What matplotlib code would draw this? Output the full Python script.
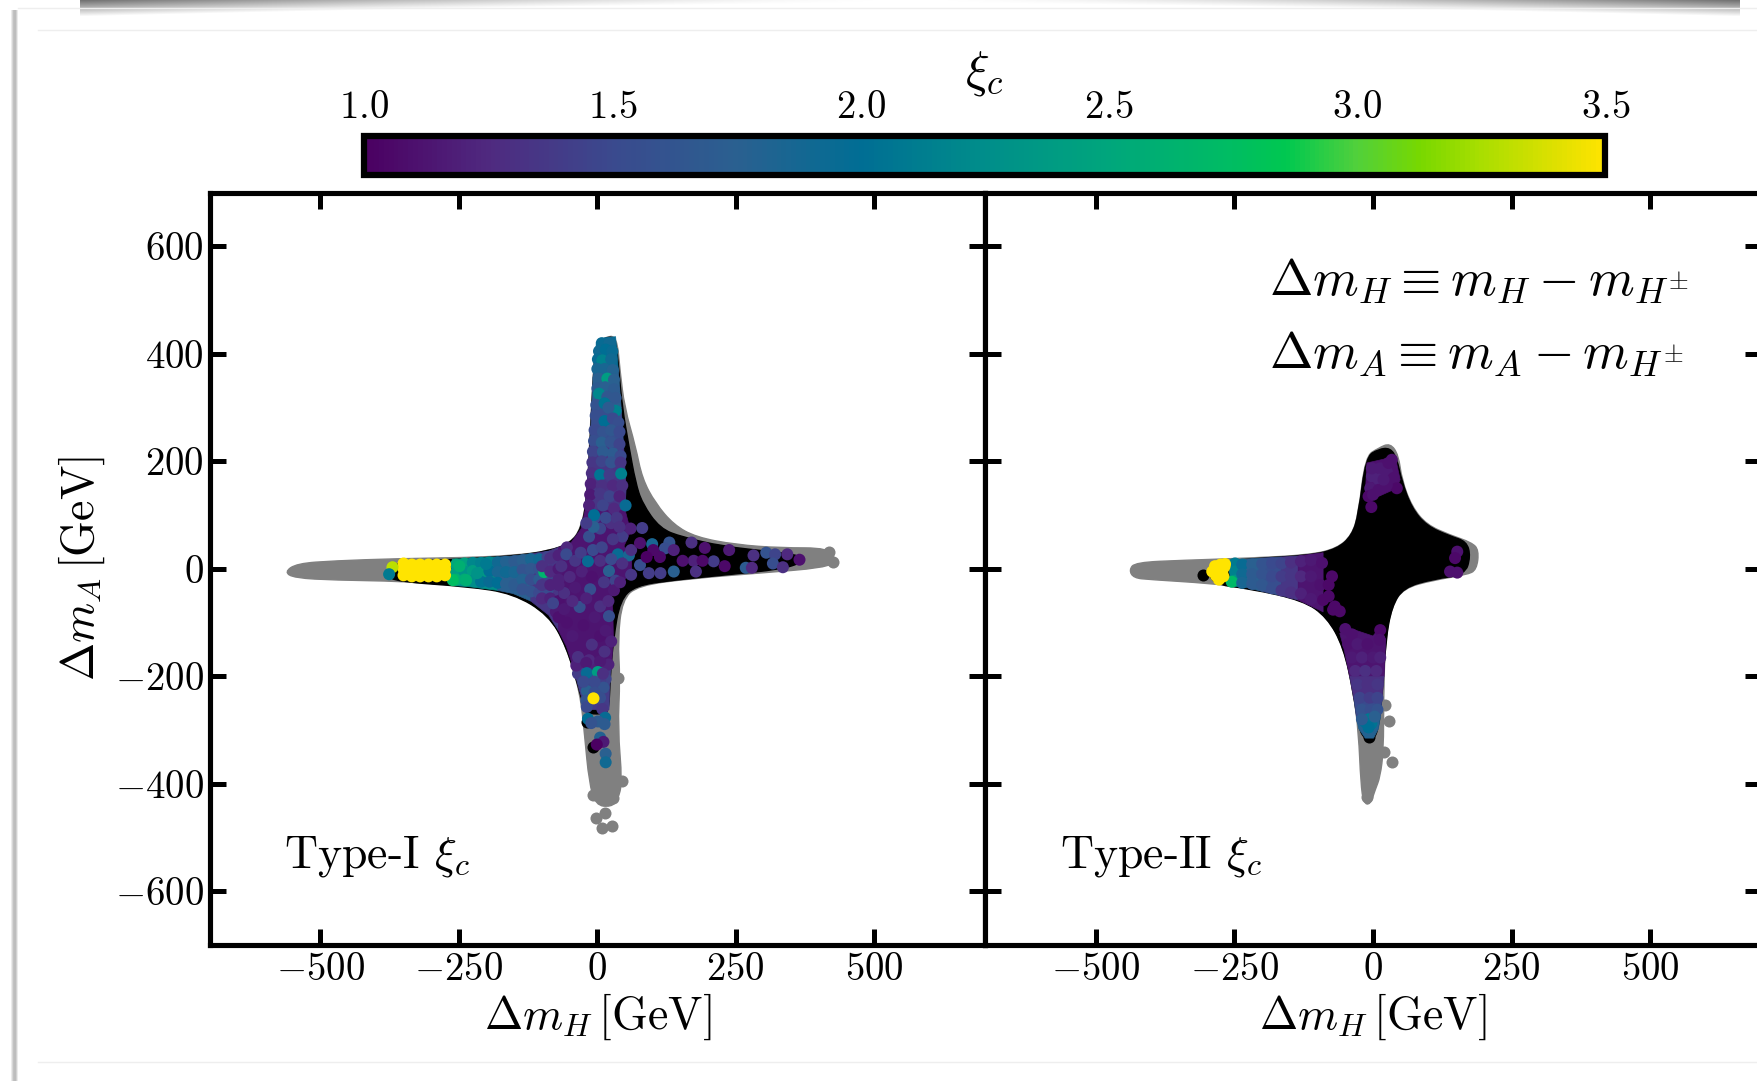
import numpy as np
import matplotlib
matplotlib.use('Agg')
import matplotlib.pyplot as plt
from matplotlib.colors import LinearSegmentedColormap, Normalize
from matplotlib.cm import ScalarMappable
from matplotlib.patches import Rectangle, PathPatch
from matplotlib.path import Path

plt.rcParams['font.family'] = ['cmr10', 'DejaVu Sans']
plt.rcParams['mathtext.fontset'] = 'cm'
plt.rcParams['axes.unicode_minus'] = False
plt.rcParams['axes.formatter.use_mathtext'] = True

W, H = 1758, 1081
XI_MIN, XI_MAX = 1.0, 3.5
X_TICKS = [-500, -250, 0, 250, 500]
Y_TICKS = [-600, -400, -200, 0, 200, 400, 600]
XI_TICKS = [1.0, 1.5, 2.0, 2.5, 3.0, 3.5]

# colour bar as it looks in the picture (more saturated than plain viridis)
XI_STOPS = [1.0, 1.25, 1.5, 1.75, 2.0, 2.26, 2.5, 2.75, 2.86, 3.0, 3.13, 3.25, 3.4, 3.5]
XI_COLOURS = ['#4b0062', '#4f2a80', '#3a4a8e', '#2a6090', '#006e94', '#008f8a', '#00a67c',
              '#00bd62', '#00c850', '#50d03c', '#78d800', '#a8de00', '#dde000', '#ffe400']

# Type-I, outlines of the dense areas
T1_GREY = [(-565, -6), (-543, 10), (-474, 15), (-362, 19), (-233, 21), (-152, 25), (-88, 33), (-48, 49),
           (-30, 75), (-19, 128), (-14, 235), (-7, 368), (-3, 418), (13, 431), (35, 434), (41, 368),
           (49, 301), (69, 228), (81, 168), (105, 122), (138, 82), (178, 59), (250, 45), (331, 39),
           (419, 39), (431, 15), (411, 2), (291, -8), (170, -18), (73, -31), (45, -58), (37, -131),
           (41, -204), (37, -297), (45, -397), (37, -430), (25, -443), (-3, -440), (-15, -397),
           (-23, -310), (-31, -231), (-56, -144), (-88, -84), (-152, -45), (-233, -31), (-354, -23),
           (-474, -21), (-547, -17)]
T1_GREY_DOTS_X = [-3, 13, 9, 27, 37, 45, -7, 29, 419, 425]
T1_GREY_DOTS_Y = [-463, -455, -482, -479, -204, -394, -420, -427, 32, 12]
T1_BLACK = [(-382, -11), (-374, 12), (-233, 19), (-152, 24), (-88, 33), (-48, 48), (-29, 75), (-19, 128),
            (-13, 235), (-7, 368), (-2, 418), (13, 430), (33, 432), (39, 368), (45, 301), (57, 228),
            (69, 161), (81, 122), (113, 75), (154, 59), (226, 42), (315, 32), (367, 25), (371, 12),
            (331, -1), (234, -11), (138, -21), (69, -31), (41, -58), (29, -131), (23, -204), (21, -262),
            (13, -270), (-15, -270), (-23, -264), (-33, -224), (-56, -144), (-88, -86), (-152, -46),
            (-233, -33), (-362, -24)]
T1_BAND_A = [(-262, 18), (-233, 19), (-180, 22), (-180, -40), (-233, -33), (-262, -31)]
T1_BAND_B = [(-180, 22), (-152, 24), (-120, 28), (-120, -60), (-152, -46), (-180, -40)]
T1_BAND_C = [(-120, 28), (-88, 33), (-70, 40), (-70, -115), (-88, -86), (-120, -60)]
T1_CORE = [(-70, 40), (-48, 48), (-29, 75), (-22, 110), (50, 110), (60, 70), (48, 42), (62, 25), (62, -5),
           (45, -25), (25, -45), (28, -78), (29, -131), (25, -185), (-43, -185), (-56, -144), (-70, -115)]
T1_UP_1 = [(-22, 110), (-13, 235), (47, 235), (52, 150), (50, 110)]
T1_UP_2 = [(-13, 235), (-10, 300), (43, 300), (47, 235)]
T1_UP_3 = [(-10, 300), (-7, 368), (38, 368), (43, 300)]
T1_UP_4 = [(-7, 368), (-2, 418), (13, 430), (33, 432), (38, 368)]
T1_LOW = [(25, -185), (23, -204), (21, -262), (-21, -262), (-33, -224), (-43, -185)]
T1_BAND_XI = [2.25, 1.75, 1.35, 1.12, 1.35, 1.55, 1.75, 1.95, 1.4]

# Type-I, points (dm_H, dm_A, xi_c), one list per region, drawn in this order
T1_LEFT = [(-255, 8, 2.5), (-255, -6, 2.4), (-255, -20, 2.6), (-240, 10, 2.45), (-240, -5, 2.3), (-240, -20, 2.55),
           (-225, 11, 2.2), (-225, -4, 2.4), (-225, -22, 2.25), (-210, 11, 2.15), (-210, -7, 2.35), (-210, -24, 2.05),
           (-195, 12, 2.2), (-195, -4, 2.0), (-195, -24, 1.95), (-180, 12, 1.9), (-180, -6, 1.85), (-180, -26, 2.0),
           (-165, 13, 1.8), (-165, -6, 1.9), (-165, -28, 1.75), (-150, 14, 1.7), (-150, -6, 1.85), (-150, -30, 1.7),
           (-135, 16, 1.75), (-135, -2, 1.6), (-135, -20, 1.8), (-135, -38, 1.6), (-120, 18, 1.85), (-120, 0, 1.65),
           (-120, -20, 1.55), (-120, -42, 1.6), (-105, 18, 1.9), (-105, 0, 1.6), (-105, -20, 1.7), (-105, -45, 1.5),
           (-90, 22, 1.45), (-90, 2, 1.35), (-90, -20, 1.45), (-90, -40, 1.5), (-90, -62, 1.35), (-96, -6, 2.65),
           (-249, 5, 2.6), (-261, -21, 2.75), (-237, -21, 2.6), (-217, -8, 2.3), (-201, 9, 2.1)]
T1_YELLOW = [(-350, -12, 3.5), (-350, 0, 3.5), (-350, 10, 3.5), (-335, -14, 3.5), (-335, -2, 3.5), (-335, 8, 3.5),
             (-320, -14, 3.5), (-320, -2, 3.5), (-320, 8, 3.5), (-305, -14, 3.5), (-305, -2, 3.5), (-305, 8, 3.5),
             (-290, -14, 3.5), (-290, -2, 3.5), (-290, 8, 3.5), (-275, -12, 3.5), (-275, 0, 3.5), (-275, 8, 3.5),
             (-370, 3, 3.3), (-376, -10, 2.1)]
T1_MIX = [(-100, 5, 1.3), (-100, -30, 1.35), (-100, -55, 1.25), (-85, 20, 1.3), (-85, -5, 1.25), (-85, -30, 1.2),
          (-85, -55, 1.2), (-75, -80, 1.15), (-70, 25, 1.2), (-70, 0, 1.15), (-70, -20, 1.2), (-70, -60, 1.1),
          (-70, -90, 1.1), (-55, -100, 1.1), (-60, -75, 1.15), (-55, 40, 1.25), (-30, -185, 1.25), (-10, -185, 1.2),
          (10, -185, 1.3), (20, -178, 1.2), (-25, -195, 1.35), (-35, -195, 1.4), (15, -205, 1.45), (-15, -200, 1.45),
          (5, -205, 1.4), (-38, -180, 1.2), (-15, -170, 1.25), (5, -172, 1.15)]
T1_CENTER = [(-56, 27, 1.5), (-40, 15, 1.35), (-65, 5, 1.3), (-50, -15, 1.25), (-30, 30, 1.4), (-17, 14, 1.95),
             (-28, -5, 1.2), (-8, 35, 1.5), (8, 40, 1.45), (5, 15, 1.3), (21, -4, 1.75), (12, -25, 1.35),
             (37, 27, 1.95), (57, 25, 1.85), (25, 18, 1.5), (45, 10, 1.3), (33, -22, 1.45), (-13, -38, 1.55),
             (-32, -71, 1.55), (-80, -64, 1.45), (-60, -45, 1.3), (-45, -60, 1.25), (-70, -30, 1.2), (-20, -55, 1.2),
             (21, -88, 1.55), (5, -70, 1.3), (-5, -90, 1.15), (20, -60, 1.25), (30, -40, 1.15), (-40, -35, 1.15),
             (-10, -15, 1.1), (-15, 60, 1.55), (5, 75, 1.45), (25, 85, 1.3), (-5, 95, 1.5), (45, 60, 1.4),
             (28, 55, 1.35), (60, 75, 1.2)]
T1_UP = [(8, 420, 1.95), (22, 420, 1.9), (3, 405, 1.9), (15, 408, 2.0), (27, 405, 1.95), (1, 390, 1.95), (9, 388, 2.15),
         (25, 390, 1.9), (0, 372, 1.85), (13, 372, 1.85), (28, 370, 1.8), (2, 354, 1.75), (18, 354, 2.4), (30, 352, 1.75),
         (0, 336, 1.7), (14, 338, 1.75), (30, 334, 1.7), (3, 326, 2.2), (18, 320, 1.65), (33, 318, 1.65), (-2, 305, 1.6),
         (13, 308, 2.05), (33, 294, 2.15), (20, 300, 1.7), (-3, 285, 1.55), (13, 275, 2.0), (28, 280, 1.5), (38, 272, 1.55),
         (-5, 258, 1.5), (10, 255, 1.6), (25, 258, 1.65), (40, 255, 1.5), (-6, 238, 1.55), (8, 235, 1.75), (24, 236, 1.6),
         (40, 232, 1.45), (-8, 218, 1.45), (10, 218, 1.7), (28, 215, 1.7), (42, 210, 1.5), (-9, 198, 1.35), (8, 200, 1.45),
         (25, 198, 1.6), (42, 198, 1.35), (-10, 178, 1.3), (5, 175, 2.05), (22, 175, 1.4), (43, 177, 2.15), (-12, 158, 1.2),
         (8, 155, 1.3), (28, 155, 1.25), (45, 155, 1.3), (-13, 138, 1.15), (5, 140, 1.35), (22, 135, 1.45), (40, 135, 1.2),
         (-15, 118, 1.2), (10, 118, 1.45), (30, 112, 1.25), (51, 118, 1.95), (-6, 100, 2.0), (15, 95, 1.5), (35, 95, 1.35),
         (-7, 78, 1.75), (-20, 85, 1.4), (40, 78, 1.3)]
T1_RIGHT = [(99, 46, 1.85), (81, 76, 1.4), (130, 49, 1.6), (122, 38, 1.55), (170, 49, 1.3), (194, 39, 1.1), (210, 14, 1.4),
            (174, 15, 1.2), (190, 15, 1.05), (238, 35, 1.15), (282, 25, 1.3), (305, 30, 1.6), (321, 27, 1.45), (343, 27, 1.25),
            (365, 17, 1.1), (268, 2, 1.7), (317, 10, 1.55), (335, 3, 1.3), (279, 2, 1.25), (230, 5, 1.05), (138, -5, 1.75),
            (114, -8, 1.4), (93, -8, 1.4), (77, 7, 1.55), (178, -5, 1.3), (41, -25, 1.2), (101, 35, 1.05), (138, 35, 1.2),
            (61, 35, 1.3), (77, 48, 1.1), (113, 22, 1.05), (154, 15, 1.1), (89, 22, 1.0), (61, -11, 1.35)]
T1_LOW_DOTS = [(-35, -164, 1.3), (-10, -141, 1.3), (13, -154, 1.3), (-20, -175, 1.15), (5, -125, 1.1), (-45, -125, 1.15),
               (-25, -105, 1.1), (15, -115, 1.15), (25, -135, 1.2), (-19, -194, 1.95), (1, -192, 2.4), (-19, -227, 1.75),
               (11, -221, 1.6), (-5, -210, 1.5), (-25, -210, 1.5), (5, -240, 1.55), (-20, -245, 1.6), (10, -195, 1.3),
               (-5, -230, 1.55), (9, -261, 1.35), (-19, -257, 1.5), (-17, -279, 2.0), (14, -277, 1.95), (1, -284, 1.7),
               (-11, -287, 1.6), (13, -289, 1.7), (-7, -241, 3.5), (5, -314, 1.8), (11, -322, 1.15), (-1, -327, 1.0),
               (15, -344, 1.75), (15, -360, 1.9)]
T1_BLACK_DOTS_X = [-7, -18]
T1_BLACK_DOTS_Y = [-331, -285]

# Type-II, outlines of the dense areas
T2_GREY = [(-440, -2), (-429, 12), (-342, 16), (-222, 20), (-114, 26), (-65, 38), (-38, 63), (-26, 104), (-14, 209),
           (10, 225), (31, 234), (46, 212), (52, 166), (70, 116), (97, 82), (139, 63), (178, 49), (191, 35), (187, -2),
           (169, -11), (109, -21), (55, -36), (34, -70), (22, -132), (19, -244), (19, -337), (13, -387), (4, -411),
           (-5, -439), (-17, -436), (-22, -399), (-26, -306), (-35, -231), (-53, -145), (-83, -89), (-126, -58),
           (-222, -36), (-294, -27), (-402, -20), (-432, -17)]
T2_GREY_DOTS_X = [22, 28, 19, 34, -10]
T2_GREY_DOTS_Y = [-253, -283, -340, -359, -425]
T2_BLACK = [(-294, 11), (-222, 19), (-114, 25), (-65, 37), (-38, 62), (-26, 102), (-13, 208), (10, 223), (31, 225),
            (43, 206), (52, 163), (70, 113), (97, 80), (139, 61), (169, 51), (176, 23), (166, -11), (109, -19), (55, -35),
            (34, -70), (23, -132), (16, -244), (10, -297), (1, -318), (-14, -318), (-26, -297), (-35, -233), (-53, -146),
            (-83, -90), (-126, -59), (-222, -37), (-294, -28)]
T2_BLACK_DOTS_X = [-306, -8]
T2_BLACK_DOTS_Y = [-11, -313]
T2_BAND_A = [(-258, 17), (-230, 18), (-230, -34), (-258, -31)]
T2_BAND_B = [(-230, 18), (-200, 20), (-200, -42), (-230, -34)]
T2_BAND_C = [(-200, 20), (-165, 22), (-165, -50), (-200, -42)]
T2_BAND_D = [(-165, 22), (-135, 24), (-135, -58), (-165, -50)]
T2_BAND_E = [(-135, 24), (-90, 30), (-90, -80), (-135, -58)]
T2_LOW_A = [(-60, -120), (-38, -112), (0, -125), (13, -108), (23, -132), (20, -200), (-42, -200), (-53, -146)]
T2_LOW_B = [(20, -200), (16, -244), (-34, -244), (-42, -200)]
T2_LOW_C = [(16, -244), (13, -275), (-30, -275), (-34, -244)]
T2_LOW_D = [(13, -275), (10, -297), (1, -315), (-14, -315), (-26, -297), (-30, -275)]
T2_PATCH = [(-11, 197), (40, 209), (49, 166), (43, 150), (-5, 128), (-14, 135)]
T2_BAND_XI = [2.1, 1.75, 1.55, 1.35, 1.12, 1.12, 1.3, 1.5, 1.8, 1.1]

# Type-II, points
T2_LEFT = [(-249, 10, 2.1), (-249, -5, 2.15), (-249, -22, 2.3), (-255, -24, 2.7), (-236, 8, 1.95), (-236, -10, 1.9), (-236, -26, 1.85),
           (-218, 8, 1.75), (-218, -10, 1.7), (-218, -28, 1.7), (-200, 9, 1.6), (-200, -10, 1.6), (-200, -30, 1.65),
           (-182, 10, 1.5), (-182, -14, 1.5), (-182, -36, 1.55), (-165, 10, 1.45), (-165, -14, 1.4), (-165, -40, 1.35),
           (-148, 12, 1.3), (-148, -14, 1.35), (-148, -44, 1.3), (-130, 14, 1.2), (-130, -14, 1.25), (-130, -46, 1.2),
           (-112, 16, 1.15), (-112, -14, 1.15), (-112, -56, 1.15), (-92, 11, 1.1), (-95, -30, 1.1), (-74, -14, 1.05),
           (-80, -30, 1.05), (-80, -51, 1.05), (-90, -58, 1.05), (-72, -76, 1.05), (-60, -79, 1.05), (-69, -70, 1.05)]
T2_YELLOW = [(-290, -5, 3.5), (-285, 5, 3.5), (-283, -13, 3.5), (-278, -20, 3.5), (-275, 8, 3.5), (-272, -5, 3.5),
             (-270, -14, 3.5), (-268, 4, 3.5), (-280, -4, 3.5), (-267, 9, 3.5)]
T2_LOW_DOTS = [(-50, -112, 1.1), (-38, -122, 1.1), (13, -114, 1.05), (-45, -140, 1.1), (-28, -140, 1.15), (-10, -140, 1.1),
               (12, -132, 1.1), (-38, -165, 1.15), (-20, -165, 1.2), (0, -165, 1.15), (13, -165, 1.2), (-32, -190, 1.25),
               (-14, -190, 1.3), (6, -190, 1.25), (-28, -215, 1.35), (-10, -215, 1.3), (8, -215, 1.35), (-24, -240, 1.45),
               (-6, -240, 1.4), (8, -240, 1.45), (-20, -262, 1.6), (-4, -262, 1.55), (8, -262, 1.6), (-14, -285, 2.0),
               (-8, -280, 2.1), (-3, -288, 2.05), (-8, -295, 2.0), (3, -275, 1.75), (-20, -280, 1.7)]
T2_TOP_DOTS = [(-2, 172, 1.2), (13, 187, 1.15), (34, 203, 1.1), (25, 181, 1.15), (37, 169, 1.1), (43, 150, 1.05), (25, 156, 1.1),
               (10, 166, 1.2), (-5, 150, 1.15), (10, 147, 1.1), (-8, 135, 1.05), (-3, 115, 1.05), (-2, 187, 1.15), (28, 197, 1.1),
               (19, 166, 1.15), (0, 138, 1.1), (152, 32, 1.1), (148, 20, 1.05), (139, -5, 1.1), (152, -7, 1.1)]

DOT_SIZE = 75


def px_rect(x0, y0, x1, y1):
    # pixel box of the picture to figure fractions
    return [x0 / W, 1 - y1 / H, (x1 - x0) / W, (y1 - y0) / H]


def draw_background(fig):
    bg = fig.add_axes([0, 0, 1, 1], zorder=-5)
    bg.set_xlim(0, W)
    bg.set_ylim(H, 0)
    bg.axis('off')
    # shadow of the slide on the left and on top
    for i, alpha in enumerate([0.08, 0.16, 0.24, 0.26, 0.26, 0.18, 0.08]):
        bg.add_patch(Rectangle((11 + i, 10), 1, H - 10, color='black', alpha=alpha, lw=0))
    xx, yy = np.meshgrid(np.arange(80, 1740), np.arange(0, 18))
    fade = np.clip(np.abs(xx - 910) / 825, 0, 1) ** 1.6
    shade = np.clip(1 - yy / (3 + 13 * fade), 0, 1) * 0.55 * fade
    rgba = np.zeros(xx.shape + (4,))
    rgba[..., 3] = shade
    bg.imshow(rgba, extent=(80, 1740, 18, 0), aspect='auto', interpolation='bilinear', zorder=1)
    bg.set_xlim(0, W)
    bg.set_ylim(H, 0)
    for y in [8, 30, 1062]:
        bg.plot([38 if y != 8 else 18, W], [y, y], color='#eeeeee', lw=1)


def scatter_points(ax, pts, cmap, norm):
    arr = np.array(pts, dtype=float)
    ax.scatter(arr[:, 0], arr[:, 1], c=arr[:, 2], cmap=cmap, norm=norm, s=DOT_SIZE, linewidths=0, zorder=6)


def fill_outline(ax, outline, colour, zorder):
    arr = np.array(outline, dtype=float)
    ax.fill(arr[:, 0], arr[:, 1], color=colour, lw=0.5, joinstyle='round', zorder=zorder)


def fill_smooth(ax, outline, colour, zorder):
    # rounded closed outline, the read points are the control points
    arr = np.array(outline, dtype=float)
    mids = (arr + np.roll(arr, -1, axis=0)) / 2
    verts = [mids[-1]]
    codes = [Path.MOVETO]
    for ctrl, mid in zip(arr, mids):
        verts += [ctrl, mid]
        codes += [Path.CURVE3, Path.CURVE3]
    ax.add_patch(PathPatch(Path(verts, codes), facecolor=colour, edgecolor=colour, lw=1, zorder=zorder))


def format_axes(ax, show_y):
    ax.set_xlim(-700, 700)
    ax.set_ylim(-700, 700)
    ax.set_xticks(X_TICKS)
    ax.set_xticklabels([f'${v}$' for v in X_TICKS])
    ax.set_yticks(Y_TICKS)
    if show_y:
        ax.set_yticklabels([f'${v}$' for v in Y_TICKS])
        ax.set_ylabel(r'$\Delta m_A\,[\mathrm{GeV}]$', fontsize=33, labelpad=6)
    else:
        ax.set_yticklabels([])
    ax.set_xlabel(r'$\Delta m_H\,[\mathrm{GeV}]$', fontsize=33, labelpad=2)
    ax.tick_params(direction='in', length=11.5, width=3.6, top=True, right=True, labelsize=28)
    ax.tick_params(axis='x', pad=5.5)
    ax.tick_params(axis='y', pad=4)
    for spine in ax.spines.values():
        spine.set_linewidth(3.7)


def main():
    fig = plt.figure(figsize=(W / 100, H / 100), dpi=100)
    draw_background(fig)

    cmap = LinearSegmentedColormap.from_list(
        'xi', [((v - XI_MIN) / (XI_MAX - XI_MIN), c) for v, c in zip(XI_STOPS, XI_COLOURS)], N=256)
    norm = Normalize(XI_MIN, XI_MAX)

    ax1 = fig.add_axes(px_rect(209.7, 192.7, 985, 945))
    ax2 = fig.add_axes(px_rect(985, 192.7, 1761, 945))

    # Type-I
    fill_smooth(ax1, T1_GREY, 'gray', 2)
    ax1.scatter(T1_GREY_DOTS_X, T1_GREY_DOTS_Y, color='gray', s=DOT_SIZE, linewidths=0, zorder=2)
    fill_smooth(ax1, T1_BLACK, 'black', 3)
    ax1.scatter(T1_BLACK_DOTS_X, T1_BLACK_DOTS_Y, color='black', s=DOT_SIZE, linewidths=0, zorder=3)
    t1_bands = [T1_BAND_A, T1_BAND_B, T1_BAND_C, T1_CORE, T1_UP_1, T1_UP_2, T1_UP_3, T1_UP_4, T1_LOW]
    for band, xi in zip(t1_bands, T1_BAND_XI):
        fill_outline(ax1, band, cmap(norm(xi)), 4)
    for pts in [T1_LEFT, T1_MIX, T1_YELLOW, T1_CENTER, T1_UP, T1_RIGHT, T1_LOW_DOTS]:
        scatter_points(ax1, pts, cmap, norm)

    # Type-II
    fill_smooth(ax2, T2_GREY, 'gray', 2)
    ax2.scatter(T2_GREY_DOTS_X, T2_GREY_DOTS_Y, color='gray', s=DOT_SIZE, linewidths=0, zorder=2)
    fill_smooth(ax2, T2_BLACK, 'black', 3)
    ax2.scatter(T2_BLACK_DOTS_X, T2_BLACK_DOTS_Y, color='black', s=DOT_SIZE, linewidths=0, zorder=3)
    t2_bands = [T2_BAND_A, T2_BAND_B, T2_BAND_C, T2_BAND_D, T2_BAND_E, T2_LOW_A, T2_LOW_B, T2_LOW_C, T2_LOW_D, T2_PATCH]
    for band, xi in zip(t2_bands, T2_BAND_XI):
        fill_outline(ax2, band, cmap(norm(xi)), 4)
    for pts in [T2_LEFT, T2_LOW_DOTS, T2_TOP_DOTS, T2_YELLOW]:
        scatter_points(ax2, pts, cmap, norm)

    format_axes(ax1, True)
    format_axes(ax2, False)

    ax1.text(0.096, 0.118, r'Type-I $\xi_c$', transform=ax1.transAxes, fontsize=33, va='center')
    ax2.text(0.097, 0.118, r'Type-II $\xi_c$', transform=ax2.transAxes, fontsize=33, va='center')
    ax2.text(0.366, 0.883, r'$\Delta m_H \equiv m_H - m_{H^{\pm}}$', transform=ax2.transAxes, fontsize=37.5, va='center')
    ax2.text(0.366, 0.785, r'$\Delta m_A \equiv m_A - m_{H^{\pm}}$', transform=ax2.transAxes, fontsize=37.5, va='center')

    cax = fig.add_axes(px_rect(364.5, 135.5, 1605.5, 174.5))
    cb = fig.colorbar(ScalarMappable(norm=norm, cmap=cmap), cax=cax, orientation='horizontal', ticks=XI_TICKS)
    cax.xaxis.set_ticks_position('top')
    cax.set_xticklabels([f'${v:.1f}$' for v in XI_TICKS])
    cax.tick_params(length=2, width=0.6, labelsize=28, pad=5)
    cb.outline.set_linewidth(4.5)
    fig.text(984 / W, 1 - 73 / H, r'$\xi_c$', fontsize=36, ha='center', va='center')

    fig.savefig('out.png', dpi=100)


if __name__ == "__main__":
    main()
